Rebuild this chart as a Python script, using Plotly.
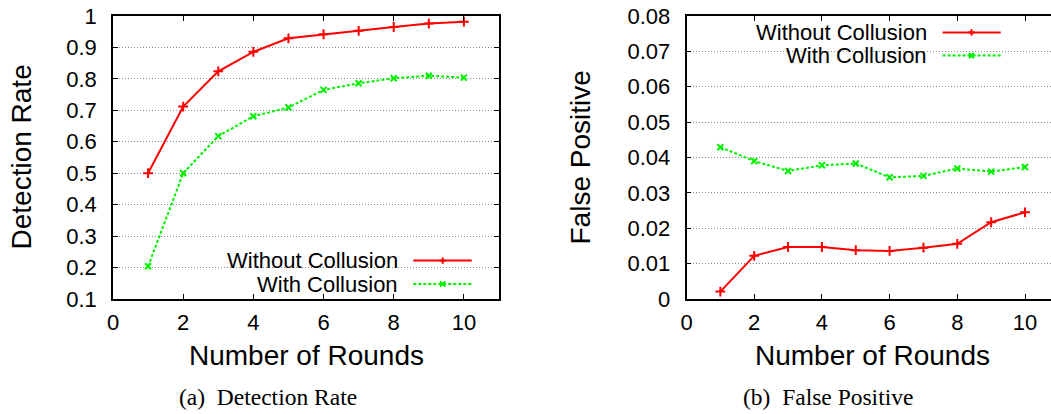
import plotly.graph_objects as go

# ---------------- data ----------------
rounds = [1, 2, 3, 4, 5, 6, 7, 8, 9, 10]
det_without = [0.500, 0.712, 0.824, 0.886, 0.929, 0.942, 0.953, 0.965, 0.976, 0.982]
det_with = [0.204, 0.500, 0.618, 0.681, 0.709, 0.765, 0.786, 0.802, 0.810, 0.804]
fp_without = [0.0021, 0.0122, 0.0147, 0.0147, 0.0138, 0.0136, 0.0145, 0.0156, 0.0217, 0.0245]
fp_with = [0.0429, 0.0390, 0.0362, 0.0378, 0.0383, 0.0344, 0.0348, 0.0369, 0.0360, 0.0373]

series_names = ["Without Collusion", "With Collusion"]
x_ticks = [0, 2, 4, 6, 8, 10]
det_ticks = [0.1, 0.2, 0.3, 0.4, 0.5, 0.6, 0.7, 0.8, 0.9, 1.0]
det_tick_text = ["0.1", "0.2", "0.3", "0.4", "0.5", "0.6", "0.7", "0.8", "0.9", "1"]
fp_ticks = [0, 0.01, 0.02, 0.03, 0.04, 0.05, 0.06, 0.07, 0.08]
fp_tick_text = ["0", "0.01", "0.02", "0.03", "0.04", "0.05", "0.06", "0.07", "0.08"]
x_title = "Number of Rounds"
y_titles = ["Detection Rate", "False Positive"]
captions = ["(a)  Detection Rate", "(b)  False Positive"]

# ---------------- style ----------------
W, H = 1051, 414
RED = "#ff0000"
GREEN = "#00f000"
SANS = "Liberation Sans, Arial, sans-serif"
SERIF = "Liberation Serif, Times New Roman, serif"


def px(x):
    return x / W


def py(y):
    return 1 - y / H


fig = go.Figure()

red_style = dict(mode="lines+markers", line=dict(color=RED, width=2),
                 marker=dict(symbol="cross-thin", size=7, line=dict(color=RED, width=2)))
green_style = dict(mode="lines+markers", line=dict(color=GREEN, width=2, dash="3px,2px"),
                   marker=dict(symbol="x-thin", size=6, line=dict(color=GREEN, width=2)))

fig.add_trace(go.Scatter(x=rounds, y=det_without, name=series_names[0], xaxis="x", yaxis="y", **red_style))
fig.add_trace(go.Scatter(x=rounds, y=det_with, name=series_names[1], xaxis="x", yaxis="y", **green_style))
fig.add_trace(go.Scatter(x=rounds, y=fp_without, name=series_names[0], xaxis="x2", yaxis="y2", **red_style))
fig.add_trace(go.Scatter(x=rounds, y=fp_with, name=series_names[1], xaxis="x2", yaxis="y2", **green_style))

ydom = [py(299), py(16)]
tickfont = dict(family=SANS, size=22, color="black")
common_x = dict(tickmode="array", tickvals=x_ticks, ticks="inside", ticklen=5, tickwidth=1,
                tickcolor="black", showline=True, linecolor="black", linewidth=1.5,
                showgrid=False, zeroline=False, tickfont=tickfont, automargin=False,
                ticklabelstandoff=3)
common_y = dict(tickmode="array", ticks="inside", ticklen=5, tickwidth=1, tickcolor="black",
                showline=True, linecolor="black", linewidth=1.5, showgrid=True,
                gridcolor="#8a8a8a", griddash="1px,2px", gridwidth=1, zeroline=False,
                tickfont=tickfont, automargin=False, ticklabelstandoff=10)

fig.update_layout(
    width=W, height=H, margin=dict(l=0, r=0, t=0, b=0),
    paper_bgcolor="white", plot_bgcolor="white", showlegend=False,
    xaxis=dict(domain=[px(113), px(499)], range=[0, 11], mirror="ticks", anchor="y", **common_x),
    yaxis=dict(domain=ydom, range=[0.1, 1], tickvals=det_ticks, ticktext=det_tick_text,
               mirror="ticks", anchor="x", **common_y),
    xaxis2=dict(domain=[px(686.5), 1], range=[0, (W - 686.5) / 33.85], mirror="ticks",
                anchor="y2", **common_x),
    yaxis2=dict(domain=ydom, range=[0, 0.08], tickvals=fp_ticks, ticktext=fp_tick_text,
                mirror=False, anchor="x2", **common_y),
)

shapes = []
annotations = []

# legend boxes (hide gridlines behind legend)
for (x0, x1, y0, y1) in [(170, 487, 248, 298), (697, 1013, 17, 70)]:
    shapes.append(dict(type="rect", xref="paper", yref="paper", x0=px(x0), x1=px(x1),
                       y0=py(y1), y1=py(y0), fillcolor="white", line=dict(width=0),
                       layer="between"))


def legend_entry(text, text_right, ly, lx0, lx1, mx, color, dash, symbol):
    annotations.append(dict(text=text, xref="paper", yref="paper", x=px(text_right), y=py(ly),
                            xanchor="right", yanchor="middle", showarrow=False,
                            height=21, borderpad=0,
                            font=dict(family=SANS, size=22, color="black")))
    shapes.append(dict(type="line", xref="paper", yref="paper", x0=px(lx0), x1=px(lx1),
                       y0=py(ly), y1=py(ly), line=dict(color=color, width=2, dash=dash)))
    s = 3.2
    if symbol == "+":
        segs = [(mx - s, ly, mx + s, ly), (mx, ly - s, mx, ly + s)]
    else:
        s = 2.6
        segs = [(mx - s, ly - s, mx + s, ly + s), (mx - s, ly + s, mx + s, ly - s)]
    for (a, b, c, d) in segs:
        shapes.append(dict(type="line", xref="paper", yref="paper", x0=px(a), x1=px(c),
                           y0=py(b), y1=py(d), line=dict(color=color, width=2)))


legend_entry(series_names[0], 399, 260.6, 413.3, 471.7, 442.7, RED, "solid", "+")
legend_entry(series_names[1], 399, 284.0, 413.3, 471.7, 442.7, GREEN, "3px,2px", "x")
legend_entry(series_names[0], 928, 32.4, 942.6, 1000.7, 971.5, RED, "solid", "+")
legend_entry(series_names[1], 928, 55.6, 942.6, 1000.7, 971.5, GREEN, "3px,2px", "x")

# axis titles
annotations.append(dict(text=y_titles[0], xref="paper", yref="paper", x=px(21), y=py(157.5),
                        textangle=-90, showarrow=False, xanchor="center", yanchor="middle",
                        font=dict(family=SANS, size=28, color="black")))
annotations.append(dict(text=y_titles[1], xref="paper", yref="paper", x=px(580), y=py(157.5),
                        textangle=-90, showarrow=False, xanchor="center", yanchor="middle",
                        font=dict(family=SANS, size=28, color="black")))
for cx in (306, 872.7):
    annotations.append(dict(text=x_title, xref="paper", yref="paper", x=px(cx), y=py(355),
                            showarrow=False, xanchor="center", yanchor="middle",
                            font=dict(family=SANS, size=28, color="black")))
# captions
for cx, cap in zip((268, 828), captions):
    annotations.append(dict(text=cap, xref="paper", yref="paper", x=px(cx), y=py(397),
                            showarrow=False, xanchor="center", yanchor="middle",
                            font=dict(family=SERIF, size=23.5, color="black")))

fig.update_layout(shapes=shapes, annotations=annotations)
fig.write_html("out.html")
